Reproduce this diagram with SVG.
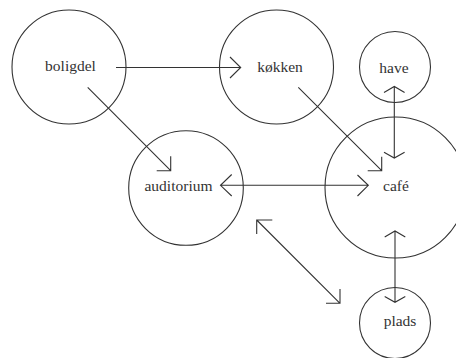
<svg xmlns="http://www.w3.org/2000/svg" width="456" height="358" viewBox="0 0 456 358">
<style>
.node circle{fill:none;stroke:#333;stroke-width:1.1}
.node text{font-family:"Liberation Serif","Times New Roman",serif;font-size:15.5px;fill:#333;text-anchor:middle}
.conn path{fill:none;stroke:#333;stroke-width:1.1}
</style>
<rect width="456" height="358" fill="#fff"/>
<g id="boligdel" class="node"><circle cx="69" cy="67" r="57"/><text x="70.5" y="71">boligdel</text></g>
<g id="kokken" class="node"><circle cx="276.5" cy="67" r="57"/><text x="280" y="72">køkken</text></g>
<g id="have" class="node"><circle cx="395" cy="67" r="35.5"/><text x="394" y="72.5">have</text></g>
<g id="auditorium" class="node"><circle cx="186" cy="188" r="57.3"/><text x="178.5" y="190.5">auditorium</text></g>
<g id="cafe" class="node"><circle cx="395.5" cy="187.5" r="70.5"/><text x="396" y="190.5">café</text></g>
<g id="plads" class="node"><circle cx="395" cy="323" r="35.5"/><text x="400" y="326">plads</text></g>
<g id="connectors" class="conn">
<path d="M116 67.5H240.7M230 57L240.7 67.5L230 78"/>
<path d="M87.7 87.3L170.7 170.7M156.7 170.7H170.7V156.3"/>
<path d="M298.3 87.3L381.7 170.7M367.7 170.7H381.7V156.7"/>
<path d="M394.3 86.5V158M384 92.5L394.3 86.5L404.6 92.5M384 152.3L394.3 158L404.6 152.3"/>
<path d="M220.5 185.3H368.3M231.7 174.5L220.5 185.3L231.7 196M357.5 175L368.3 185.3L357.5 196"/>
<path d="M256.7 220L340 303.3M272.3 220H256.7V234M326 303.3H340V289"/>
<path d="M395 231V302.3M384.7 237L395 231L405.3 237M384.7 296.5L395 302.3L405.3 296.5"/>
</g>
</svg>
